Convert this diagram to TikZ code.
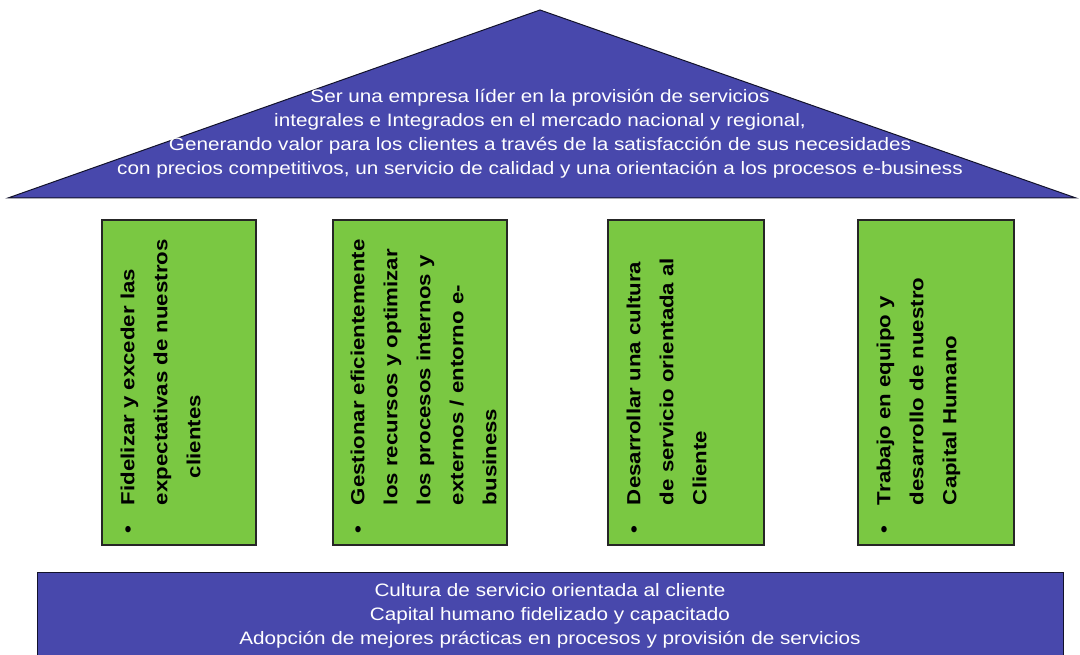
\documentclass[tikz,border=0pt]{standalone}
\usepackage{fontspec}
\setmainfont{Liberation Sans}
\usepackage{xcolor}
\usepackage{tikz}
\definecolor{roofblue}{RGB}{72,72,172}
\definecolor{pillargreen}{RGB}{122,200,66}

\begin{document}
\begin{tikzpicture}[x=1pt, y=1pt,
    roof/.style={fill=roofblue, draw=black!75!roofblue, line width=1pt},
    pillar/.style={fill=pillargreen, draw=black!85, line width=1.5pt},
    bluetext/.style={text=white, align=center, inner sep=0pt, font=\fontsize{18}{24}\selectfont\addfontfeature{FakeStretch=1.15}},
    pillartext/.style={rotate=90, anchor=north west, inner sep=0pt, font=\fontsize{19}{33}\selectfont\bfseries\addfontfeature{FakeStretch=1.17}}]
    \useasboundingbox (0,0) rectangle (1080,655);
    % roof
    \draw[roof] (8,457) -- (540,645) -- (1076,457) -- cycle;
    \node[bluetext] (vision) at (540,521) {Ser una empresa líder en la provisión de servicios\\
        integrales e Integrados en el mercado nacional y regional,\\
        Generando valor para los clientes a través de la satisfacción de sus necesidades\\
        con precios competitivos, un servicio de calidad y una orientación a los procesos e-business};
    % pillars
    \draw[pillar] (102,110) rectangle (256,435);
    \draw[pillar] (333,110) rectangle (507,435);
    \draw[pillar] (608,110) rectangle (764,435);
    \draw[pillar] (858,110) rectangle (1014,435);
    \node[pillartext] (obj1) at (111,121) {\begin{tabular}{@{}l@{\hspace{21pt}}l@{}}
        \textbullet & Fidelizar y exceder las\\
        & expectativas de nuestros\\
        & \hspace*{27pt}clientes\end{tabular}};
    \node[pillartext] (obj2) at (341,121) {\begin{tabular}{@{}l@{\hspace{21pt}}l@{}}
        \textbullet & Gestionar eficientemente\\
        & los recursos y optimizar\\
        & los procesos internos y\\
        & externos / entorno e-\\
        & business\end{tabular}};
    \node[pillartext] (obj3) at (617,121) {\begin{tabular}{@{}l@{\hspace{21pt}}l@{}}
        \textbullet & Desarrollar una cultura\\
        & de servicio orientada al\\
        & Cliente\end{tabular}};
    \node[pillartext] (obj4) at (867,121) {\begin{tabular}{@{}l@{\hspace{21pt}}l@{}}
        \textbullet & Trabajo en equipo y\\
        & desarrollo de nuestro\\
        & Capital Humano\end{tabular}};
    % base
    \draw[roof] (37,-2) rectangle (1063,82);
    \node[bluetext] (valores) at (550,39) {Cultura de servicio orientada al cliente\\
        Capital humano fidelizado y capacitado\\
        Adopción de mejores prácticas en procesos y provisión de servicios};
\end{tikzpicture}
\end{document}
